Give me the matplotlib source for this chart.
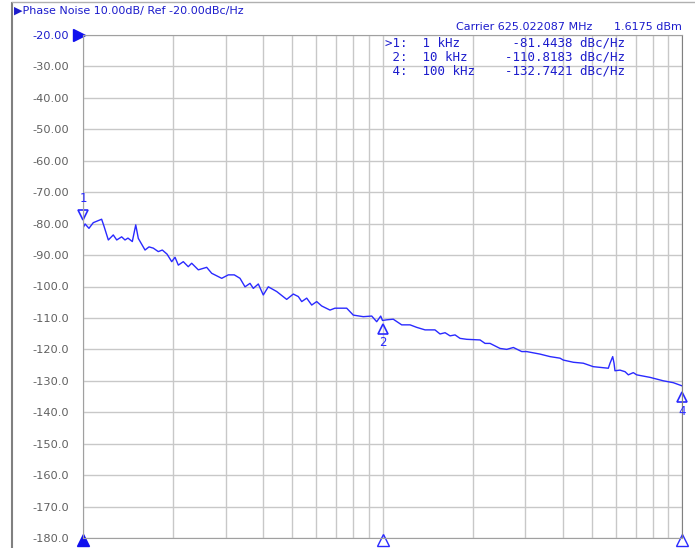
import matplotlib
matplotlib.use("Agg")
import matplotlib.pyplot as plt
from matplotlib.lines import Line2D
from matplotlib.transforms import offset_copy

# phase noise trace, offset frequency in kHz and level in dBc/Hz
freq_khz = [1.000, 1.016, 1.047, 1.082, 1.154, 1.175, 1.215, 1.262, 1.296, 1.346,
            1.381, 1.413, 1.461, 1.500, 1.530, 1.611, 1.661, 1.717, 1.784, 1.840,
            1.908, 1.978, 2.029, 2.081, 2.162, 2.246, 2.306, 2.427, 2.588, 2.690,
            2.905, 3.056, 3.200, 3.344, 3.475, 3.611, 3.704, 3.849, 3.999, 4.156,
            4.434, 4.787, 5.037, 5.235, 5.374, 5.584, 5.803, 6.030, 6.266, 6.678,
            6.939, 7.594, 7.989, 8.628, 9.205, 9.564, 9.863, 10.00, 10.33, 10.86,
            11.59, 12.36, 13.01, 13.87, 14.97, 15.56, 16.18, 16.81, 17.47, 18.15,
            19.11, 21.17, 22.00, 22.86, 24.68, 25.99, 27.35, 29.17, 30.29, 31.88,
            33.56, 36.25, 39.15, 40.15, 43.37, 46.82, 50.56, 56.75, 57.50, 58.70,
            59.30, 59.73, 62.09, 64.54, 66.20, 68.77, 70.58, 78.16, 86.64, 93.57,
            100.0]
noise_dbc = [-81.4, -80.1, -81.5, -79.7, -78.6, -80.8, -85.2, -83.6, -85.2, -84.2,
             -85.2, -84.6, -85.7, -80.4, -84.7, -88.4, -87.4, -87.8, -88.9, -88.4,
             -89.7, -92.1, -90.7, -93.2, -92.1, -93.7, -92.6, -94.7, -93.9, -95.8,
             -97.4, -96.3, -96.3, -97.4, -100.1, -99.0, -100.6, -99.2, -102.7, -100.1,
             -101.6, -104.1, -102.4, -103.2, -104.8, -103.7, -105.9, -104.8, -106.2, -107.5,
             -106.9, -106.9, -109.1, -109.6, -109.4, -111.2, -109.4, -110.8, -110.6, -110.4,
             -112.2, -112.2, -113.0, -113.8, -113.8, -115.1, -114.7, -115.7, -115.4, -116.5,
             -116.8, -117.0, -118.1, -118.1, -119.7, -120.0, -119.4, -120.7, -120.7, -121.1,
             -121.5, -122.3, -122.8, -123.4, -124.1, -124.4, -125.5, -126.0, -124.4, -122.3,
             -124.4, -126.8, -126.6, -127.1, -128.1, -127.4, -128.1, -128.9, -130.0, -130.6,
             -131.6]

ref_level = -20
marker_ids = ["1", "2", "4"]
marker_freq_khz = [1, 10, 100]
marker_freq_text = ["1 kHz", "10 kHz", "100 kHz"]
marker_dbc = [-81.4438, -110.8183, -132.7421]
y_ticks = list(range(-20, -190, -10))
y_labels = ["%.2f" % v if v > -100 else "%.1f" % v for v in y_ticks]

blue = "#2a2aff"
text_blue = "#1c1ccc"
W, H = 695, 548

fig = plt.figure(figsize=(W / 100, H / 100), dpi=100)
ax = fig.add_axes([83 / W, 10 / H, 599 / W, 503 / H])

ax.plot(freq_khz, noise_dbc, color=blue, lw=1.0)

ax.set_xscale("log")
ax.set_xlim(1, 100)
ax.set_ylim(-180, -20)
ax.set_yticks(y_ticks)
ax.set_yticklabels(y_labels, fontsize=8.2, color="#606060")
ax.get_yticklabels()[0].set_color(text_blue)
ax.tick_params(axis="y", length=0, pad=10)
ax.tick_params(axis="x", which="both", length=0, labelbottom=False)
ax.grid(True, which="both", color="#c8c8c8", lw=1.0)
for s in ax.spines.values():
    s.set_color("#a0a0a0")
ax.spines["right"].set_color("#808080")

# reference level pointer
ax.plot([1], [ref_level], marker=">", color="#1010ee", ms=9, clip_on=False,
        transform=offset_copy(ax.transData, fig=fig, x=-4, y=0, units="dots"))

# trace markers
for mid, mf, mv in zip(marker_ids, marker_freq_khz, marker_dbc):
    if mid == "1":
        tr = offset_copy(ax.transData, fig=fig, x=0, y=13, units="dots")
        ax.plot([mf], [mv], marker="v", ms=7, mfc="none", mec=blue, mew=1.2,
                clip_on=False, transform=tr)
        ax.annotate(mid, (mf, mv), xytext=(0, 17), textcoords="offset points",
                    ha="center", va="bottom", fontsize=8.5, color=blue,
                    annotation_clip=False)
    else:
        tr = offset_copy(ax.transData, fig=fig, x=0, y=-8, units="dots")
        ax.plot([mf], [mv], marker="^", ms=7, mfc="none", mec=blue, mew=1.2,
                clip_on=False, transform=tr)
        ax.annotate(mid, (mf, mv), xytext=(0, -11), textcoords="offset points",
                    ha="center", va="top", fontsize=8.5, color=blue,
                    annotation_clip=False)

# stimulus markers on the bottom edge
bt = offset_copy(ax.get_xaxis_transform(), fig=fig, x=0, y=-2, units="dots")
ax.plot([marker_freq_khz[0]], [0], marker="^", ms=9, color="#1010ee",
        clip_on=False, transform=bt)
ax.plot(marker_freq_khz[1:], [0, 0], ls="none", marker="^", ms=9, mfc="none",
        mec=blue, mew=1.0, clip_on=False, transform=bt)

# header texts
fig.text(14 / W, 1 - 11 / H, "\u25b6Phase Noise 10.00dB/ Ref -20.00dBc/Hz",
         fontsize=8.0, color=text_blue, va="center", ha="left")
fig.text(456 / W, 1 - 27 / H, "Carrier 625.022087 MHz", fontsize=8.0,
         color=text_blue, va="center", ha="left")
fig.text(682 / W, 1 - 27 / H, "1.6175 dBm", fontsize=8.0,
         color=text_blue, va="center", ha="right")

for i, (mid, ft, mv) in enumerate(zip(marker_ids, marker_freq_text, marker_dbc)):
    prefix = (">" if i == 0 else " ") + mid + ":"
    line = "%s  %-7s%13.4f dBc/Hz" % (prefix, ft, mv)
    fig.text(385 / W, 1 - (43 + 14 * i) / H, line, family="DejaVu Sans Mono",
             fontsize=9.0, color=text_blue, va="center", ha="left")

# window frame
fig.add_artist(Line2D([12 / W, 12 / W], [0, 1 - 3 / H], color="#808080", lw=1.5,
                      transform=fig.transFigure))
fig.add_artist(Line2D([12 / W, 1], [1 - 2 / H, 1 - 2 / H], color="#b0b0b0", lw=1.0,
                      transform=fig.transFigure))

fig.savefig("out.png", dpi=100)
